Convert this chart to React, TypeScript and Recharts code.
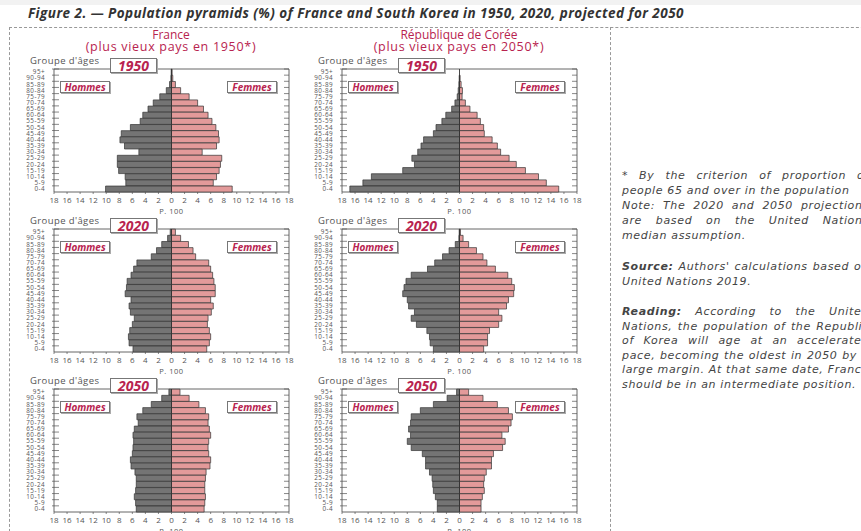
import React from "react";
import { BarChart, Bar, XAxis, YAxis, ReferenceLine, ReferenceArea } from "recharts";

// age groups, top of the pyramid first
const ageGroups = [
  "95+", "90-94", "85-89", "80-84", "75-79", "70-74", "65-69", "60-64", "55-59", "50-54",
  "45-49", "40-44", "35-39", "30-34", "25-29", "20-24", "15-19", "10-14", "5-9", "0-4",
];
const xTicks = [-18, -16, -14, -12, -10, -8, -6, -4, -2, 0, 2, 4, 6, 8, 10, 12, 14, 16, 18];

// % of each sex
const franceMen1950 = [0.05, 0.1, 0.3, 0.8, 1.8, 2.8, 3.6, 4.4, 4.8, 6.3, 7.7, 7.9, 7.2, 5.0, 8.3, 8.3, 8.1, 7.1, 7.0, 10.1];
const franceWomen1950 = [0.1, 0.2, 0.6, 1.4, 2.7, 4.0, 4.9, 5.6, 6.2, 6.8, 7.2, 7.3, 6.9, 4.7, 7.7, 7.5, 7.3, 6.9, 6.4, 9.3];
const koreaMen1950 = [0, 0.05, 0.1, 0.2, 0.35, 0.7, 1.2, 2.1, 2.7, 3.6, 4.0, 5.5, 5.9, 6.4, 7.3, 6.9, 8.7, 13.5, 14.8, 16.8];
const koreaWomen1950 = [0, 0.1, 0.25, 0.45, 0.4, 0.9, 1.6, 2.7, 3.2, 3.7, 3.8, 5.0, 5.8, 6.3, 7.6, 8.7, 10.1, 12.1, 13.3, 15.2];
const franceMen2020 = [0.2, 0.6, 1.5, 2.3, 3.1, 5.3, 5.8, 6.2, 6.8, 6.9, 7.1, 6.2, 6.5, 6.3, 5.7, 6.0, 6.4, 6.6, 6.5, 5.9];
const franceWomen2020 = [0.6, 1.4, 2.6, 3.3, 3.7, 5.7, 6.0, 6.3, 6.5, 6.7, 6.7, 6.0, 6.4, 6.1, 5.6, 5.5, 5.8, 6.0, 5.8, 5.4];
const koreaMen2020 = [0.05, 0.1, 0.65, 1.6, 2.6, 3.8, 4.9, 7.4, 8.2, 8.5, 8.7, 8.0, 7.8, 6.9, 7.4, 6.6, 5.0, 4.6, 4.5, 4.0];
const koreaWomen2020 = [0.15, 0.55, 1.4, 2.6, 3.6, 4.2, 5.5, 7.4, 8.0, 8.4, 8.3, 7.5, 7.2, 6.0, 6.5, 6.0, 4.6, 4.3, 4.3, 3.7];
const franceMen2050 = [0.4, 1.5, 3.1, 4.4, 5.3, 5.1, 5.7, 5.9, 5.8, 5.9, 6.0, 6.3, 6.2, 5.6, 5.4, 5.4, 5.5, 5.7, 5.5, 5.4];
const franceWomen2050 = [1.3, 2.7, 4.2, 5.2, 5.7, 5.6, 5.8, 6.0, 5.7, 5.6, 5.7, 6.0, 5.9, 5.3, 5.2, 5.1, 5.1, 5.2, 5.1, 5.0];
const koreaMen2050 = [0.45, 1.9, 4.0, 6.0, 7.4, 7.5, 7.8, 7.5, 8.0, 7.4, 5.7, 5.2, 5.2, 4.6, 4.2, 4.1, 4.0, 3.7, 3.4, 3.4];
const koreaWomen2050 = [1.4, 3.6, 5.8, 7.5, 8.1, 7.9, 7.5, 6.5, 7.0, 6.6, 5.2, 4.9, 4.9, 4.1, 3.8, 3.7, 3.8, 3.5, 3.3, 3.3];

const pyramids = [
  { col: 0, row: 0, year: "1950", men: franceMen1950, women: franceWomen1950 },
  { col: 1, row: 0, year: "1950", men: koreaMen1950, women: koreaWomen1950 },
  { col: 0, row: 1, year: "2020", men: franceMen2020, women: franceWomen2020 },
  { col: 1, row: 1, year: "2020", men: koreaMen2020, women: koreaWomen2020 },
  { col: 0, row: 2, year: "2050", men: franceMen2050, women: franceWomen2050 },
  { col: 1, row: 2, year: "2050", men: koreaMen2050, women: koreaWomen2050 },
];

const CRIMSON = "#b8234f";
const GREY_TXT = "#555";
const FONT = "'Open Sans', sans-serif";

const CHART_W = 277;
const CHART_H = 156;
const MARGIN = { top: 9, right: 8, bottom: 0, left: 0 };
const YAXIS_W = 34;
const PLOT_LEFT = MARGIN.left + YAXIS_W;
const PLOT_RIGHT = CHART_W - MARGIN.right;
const PLOT_H = 123;
const BAND = PLOT_H / ageGroups.length;

const AgeTick = ({ x = 0, y = 0, payload }: any) => (
  <g>
    <text x={x} y={y} dy={2.2} textAnchor="end" fontSize={6.3} letterSpacing={0.45} fill={GREY_TXT} fontFamily={FONT}>
      {payload?.value}
    </text>
    <line x1={PLOT_LEFT - 2} x2={PLOT_LEFT + 5} y1={y - BAND / 2} y2={y - BAND / 2} stroke="#555" strokeWidth={0.7} />
    <line x1={PLOT_RIGHT - 5} x2={PLOT_RIGHT} y1={y - BAND / 2} y2={y - BAND / 2} stroke="#555" strokeWidth={0.7} />
  </g>
);

const boxStyle: React.CSSProperties = {
  position: "absolute",
  background: "#fff",
  border: "1px solid #777",
  boxShadow: "1px 1px 0 #aaa",
  color: CRIMSON,
  fontFamily: FONT,
  fontStyle: "italic",
  fontWeight: 700,
  textAlign: "center",
  boxSizing: "border-box",
  whiteSpace: "nowrap",
};

function Pyramid({ col, row, year, men, women }: any) {
  const data = ageGroups.map((age, i) => ({ age, men: -men[i], women: women[i] }));
  const left = 20 + 288 * col;
  const top = 60 + 160 * row;
  return (
    <div style={{ position: "absolute", left, top, width: CHART_W, height: CHART_H }}>
      <BarChart
        width={CHART_W}
        height={CHART_H}
        data={data}
        layout="vertical"
        stackOffset="sign"
        barCategoryGap="3%"
        margin={MARGIN}
      >
        <XAxis
          type="number"
          domain={[-18, 18]}
          ticks={xTicks}
          tickFormatter={(v: number) => String(Math.abs(v))}
          axisLine={false}
          tickLine={{ stroke: "#555", strokeWidth: 0.7 }}
          tickSize={2}
          tickMargin={3}
          height={24}
          interval={0}
          tick={{ fontSize: 8, fill: GREY_TXT, fontFamily: FONT }}
          label={{ value: "P. 100", position: "insideBottom", offset: 2, fontSize: 7.5, letterSpacing: 0.5, fill: GREY_TXT, fontFamily: FONT }}
        />
        <YAxis
          type="category"
          dataKey="age"
          width={YAXIS_W}
          axisLine={false}
          tickLine={false}
          tickSize={0}
          tickMargin={9}
          interval={0}
          tick={<AgeTick />}
        />
        <ReferenceArea x1={-18} x2={18} fill="none" fillOpacity={0} stroke="#555" strokeWidth={0.9} />
        <Bar dataKey="men" stackId="p" fill="#747474" stroke="#333" strokeWidth={0.7} isAnimationActive={false} />
        <Bar dataKey="women" stackId="p" fill="#e39a9a" stroke="#333" strokeWidth={0.7} isAnimationActive={false} />
        <ReferenceLine x={0} stroke="#333" strokeWidth={0.9} />
      </BarChart>
      <div
        style={{
          position: "absolute",
          left: PLOT_LEFT - 24,
          top: MARGIN.top - 14,
          fontSize: 9.5,
          letterSpacing: 0.4,
          lineHeight: "12px",
          color: GREY_TXT,
          fontFamily: FONT,
          whiteSpace: "nowrap",
        }}
      >
        Groupe d'âges
      </div>
      <div style={{ ...boxStyle, left: PLOT_LEFT + 56, top: MARGIN.top - 11, width: 47, height: 15, fontSize: 14, lineHeight: "13px" }}>
        {year}
      </div>
      <div style={{ ...boxStyle, left: PLOT_LEFT + 6, top: MARGIN.top + 12, width: 50, height: 12, fontSize: 10, lineHeight: "10px" }}>
        Hommes
      </div>
      <div style={{ ...boxStyle, left: PLOT_RIGHT - 62, top: MARGIN.top + 12, width: 50, height: 12, fontSize: 10, lineHeight: "10px" }}>
        Femmes
      </div>
    </div>
  );
}

const noteLines = [
  { y: 175, text: "* By the criterion of proportion of", justify: true },
  { y: 190, text: "people 65 and over in the population", justify: false },
  { y: 205, text: "Note: The 2020 and 2050 projections", justify: true },
  { y: 220, text: "are based on the United Nations", justify: true },
  { y: 235, text: "median assumption.", justify: false },
  { y: 266, bold: "Source:", text: " Authors' calculations based on", justify: true },
  { y: 281, text: "United Nations 2019.", justify: false },
  { y: 311, bold: "Reading:", text: " According to the United", justify: true },
  { y: 326, text: "Nations, the population of the Republic", justify: true },
  { y: 340, text: "of Korea will age at an accelerated", justify: true },
  { y: 355, text: "pace, becoming the oldest in 2050 by a", justify: true },
  { y: 369, text: "large margin. At that same date, France", justify: true },
  { y: 384, text: "should be in an intermediate position.", justify: false },
];

const columnTitles = [
  { x: 171, name: "France", sub: "(plus vieux pays en 1950*)" },
  { x: 459, name: "République de Corée", sub: "(plus vieux pays en 2050*)" },
];

export default function App() {
  return (
    <div
      style={{
        position: "fixed",
        left: 0,
        top: 0,
        width: 861,
        height: 531,
        overflow: "hidden",
        background: "#fff",
        fontFamily: FONT,
      }}
    >
      <div style={{ position: "absolute", left: 0, top: 0, width: 861, height: 5, background: "#f2f2f2" }} />
      <div
        style={{
          position: "absolute",
          left: 28,
          top: 4,
          fontSize: 13.5,
          letterSpacing: 0.45,
          fontStyle: "italic",
          fontWeight: 700,
          color: "#333",
          whiteSpace: "nowrap",
        }}
      >
        Figure 2. — Population pyramids (%) of France and South Korea in 1950, 2020, projected for 2050
      </div>
      <div style={{ position: "absolute", left: 9, top: 27, width: 900, borderTop: "1px dashed #999" }} />
      <div style={{ position: "absolute", left: 9, top: 27, height: 520, borderLeft: "1px dashed #999" }} />
      <div style={{ position: "absolute", left: 610, top: 27, height: 520, borderLeft: "1px dashed #999" }} />
      {columnTitles.map((t) => (
        <div
          key={t.name}
          style={{
            position: "absolute",
            left: t.x - 120,
            width: 240,
            top: 29,
            textAlign: "center",
            color: CRIMSON,
            lineHeight: "12px",
            whiteSpace: "nowrap",
          }}
        >
          <div style={{ fontSize: 12 }}>{t.name}</div>
          <div style={{ fontSize: 12.5, letterSpacing: 0.7 }}>{t.sub}</div>
        </div>
      ))}
      {pyramids.map((p, i) => (
        <Pyramid key={i} {...p} />
      ))}
      {noteLines.map((l, i) => (
        <div
          key={i}
          style={{
            position: "absolute",
            left: 622,
            top: l.y - 7.5,
            width: 247,
            height: 15,
            lineHeight: "15px",
            fontSize: 11,
            letterSpacing: 0.65,
            fontFamily: "'DejaVu Sans', sans-serif",
            fontStyle: "italic",
            color: "#444",
            whiteSpace: "nowrap",
            textAlign: "justify",
            textAlignLast: l.justify ? "justify" : "left",
          }}
        >
          {l.bold ? <b>{l.bold}</b> : null}
          {l.text}
        </div>
      ))}
    </div>
  );
}
